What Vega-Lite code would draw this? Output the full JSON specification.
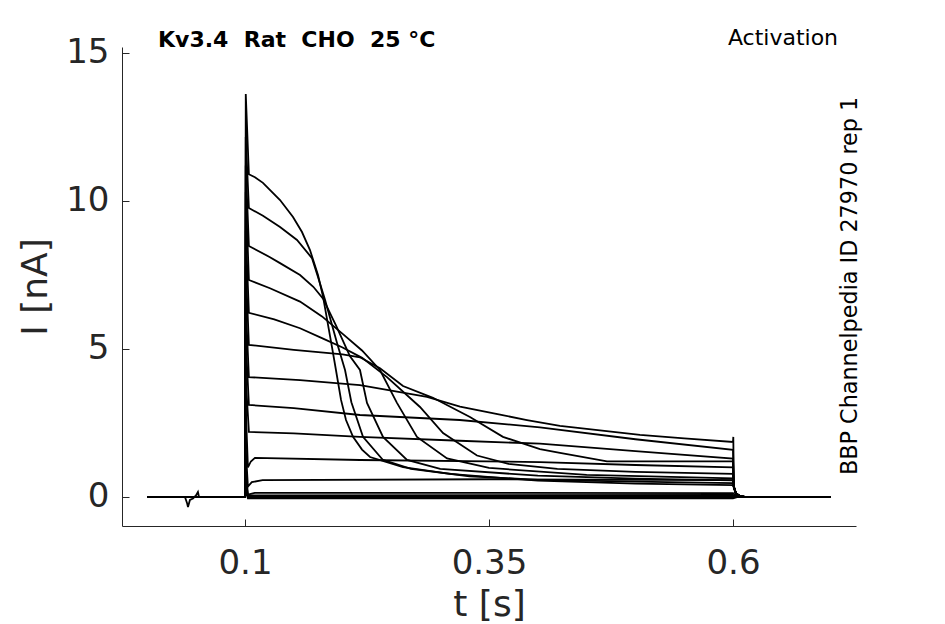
{
  "$schema": "https://vega.github.io/schema/vega-lite/v6.json",
  "width": 734,
  "height": 479,
  "autosize": "none",
  "padding": {"left": 122, "top": 47, "right": 89, "bottom": 98},
  "background": "white",
  "config": {
    "view": {"stroke": null},
    "font": "DejaVu Sans",
    "axis": {
      "grid": false,
      "domainColor": "#262626",
      "tickColor": "#262626",
      "labelColor": "#262626",
      "titleColor": "#262626",
      "labelFont": "DejaVu Sans",
      "titleFont": "DejaVu Sans",
      "labelFontSize": 34,
      "titleFontSize": 36,
      "titleFontWeight": "normal",
      "tickSize": -7,
      "domainWidth": 1,
      "tickWidth": 1
    }
  },
  "datasets": {
    "traces": [
      {"k": "A", "t": 0, "i": 0}, {"k": "A", "t": 0.0385, "i": 0}, {"k": "A", "t": 0.0406, "i": -0.2}, {"k": "A", "t": 0.0416, "i": -0.34}, {"k": "A", "t": 0.0436, "i": -0.1}, {"k": "A", "t": 0.0467, "i": -0.05}, {"k": "A", "t": 0.0498, "i": 0.05}, {"k": "A", "t": 0.0518, "i": 0.17}, {"k": "A", "t": 0.0529, "i": 0}, {"k": "A", "t": 0.1, "i": 0},
      {"k": "A", "t": 0.1008, "i": 13.61}, {"k": "A", "t": 0.104, "i": 10.9}, {"k": "A", "t": 0.1102, "i": 10.8}, {"k": "A", "t": 0.1184, "i": 10.61}, {"k": "A", "t": 0.1359, "i": 10.03}, {"k": "A", "t": 0.1492, "i": 9.46}, {"k": "A", "t": 0.1584, "i": 8.95}, {"k": "A", "t": 0.1666, "i": 8.34}, {"k": "A", "t": 0.1748, "i": 7.5}, {"k": "A", "t": 0.18, "i": 6.76}, {"k": "A", "t": 0.1891, "i": 5.07}, {"k": "A", "t": 0.1932, "i": 4.29}, {"k": "A", "t": 0.1984, "i": 3.28}, {"k": "A", "t": 0.2035, "i": 2.6}, {"k": "A", "t": 0.2107, "i": 2.03}, {"k": "A", "t": 0.2199, "i": 1.6}, {"k": "A", "t": 0.2281, "i": 1.35}, {"k": "A", "t": 0.2619, "i": 1.01}, {"k": "A", "t": 0.31, "i": 0.78}, {"k": "A", "t": 0.4, "i": 0.55}, {"k": "A", "t": 0.5, "i": 0.45}, {"k": "A", "t": 0.6, "i": 0.4},
      {"k": "A", "t": 0.6008, "i": 0.35}, {"k": "A", "t": 0.603, "i": 0.12}, {"k": "A", "t": 0.607, "i": 0.03}, {"k": "A", "t": 0.612, "i": 0}, {"k": "A", "t": 0.7, "i": 0},

      {"k": "B", "t": 0, "i": 0}, {"k": "B", "t": 0.1, "i": 0}, {"k": "B", "t": 0.1008, "i": 12.16}, {"k": "B", "t": 0.104, "i": 9.76}, {"k": "B", "t": 0.1184, "i": 9.5}, {"k": "B", "t": 0.1359, "i": 9.12}, {"k": "B", "t": 0.1533, "i": 8.68}, {"k": "B", "t": 0.1686, "i": 8.07}, {"k": "B", "t": 0.1748, "i": 7.43}, {"k": "B", "t": 0.182, "i": 6.66}, {"k": "B", "t": 0.1943, "i": 5.2}, {"k": "B", "t": 0.2025, "i": 4.29}, {"k": "B", "t": 0.209, "i": 3.2}, {"k": "B", "t": 0.2209, "i": 2.03}, {"k": "B", "t": 0.2414, "i": 1.25}, {"k": "B", "t": 0.27, "i": 0.95}, {"k": "B", "t": 0.33, "i": 0.7}, {"k": "B", "t": 0.4, "i": 0.58}, {"k": "B", "t": 0.5, "i": 0.52}, {"k": "B", "t": 0.6, "i": 0.47},
      {"k": "B", "t": 0.6008, "i": 0.35}, {"k": "B", "t": 0.603, "i": 0.12}, {"k": "B", "t": 0.607, "i": 0.03}, {"k": "B", "t": 0.612, "i": 0}, {"k": "B", "t": 0.7, "i": 0},

      {"k": "C", "t": 0, "i": 0}, {"k": "C", "t": 0.1, "i": 0}, {"k": "C", "t": 0.1008, "i": 11.2}, {"k": "C", "t": 0.104, "i": 8.48}, {"k": "C", "t": 0.1256, "i": 8.1}, {"k": "C", "t": 0.1359, "i": 7.9}, {"k": "C", "t": 0.1564, "i": 7.5}, {"k": "C", "t": 0.17, "i": 7.1}, {"k": "C", "t": 0.18, "i": 6.7}, {"k": "C", "t": 0.1932, "i": 5.8}, {"k": "C", "t": 0.2076, "i": 4.75}, {"k": "C", "t": 0.2178, "i": 4.29}, {"k": "C", "t": 0.225, "i": 3.18}, {"k": "C", "t": 0.2414, "i": 2.03}, {"k": "C", "t": 0.266, "i": 1.25}, {"k": "C", "t": 0.3, "i": 0.95}, {"k": "C", "t": 0.4, "i": 0.72}, {"k": "C", "t": 0.5, "i": 0.62}, {"k": "C", "t": 0.6, "i": 0.56},
      {"k": "C", "t": 0.6008, "i": 0.35}, {"k": "C", "t": 0.603, "i": 0.12}, {"k": "C", "t": 0.607, "i": 0.03}, {"k": "C", "t": 0.612, "i": 0}, {"k": "C", "t": 0.7, "i": 0},

      {"k": "D", "t": 0, "i": 0}, {"k": "D", "t": 0.1, "i": 0}, {"k": "D", "t": 0.1008, "i": 10.3}, {"k": "D", "t": 0.104, "i": 7.33}, {"k": "D", "t": 0.1256, "i": 7.05}, {"k": "D", "t": 0.1564, "i": 6.6}, {"k": "D", "t": 0.1789, "i": 6.1}, {"k": "D", "t": 0.2004, "i": 5.5}, {"k": "D", "t": 0.2199, "i": 4.95}, {"k": "D", "t": 0.2383, "i": 4.29}, {"k": "D", "t": 0.2557, "i": 3.18}, {"k": "D", "t": 0.2762, "i": 2.03}, {"k": "D", "t": 0.307, "i": 1.3}, {"k": "D", "t": 0.35, "i": 0.98}, {"k": "D", "t": 0.45, "i": 0.75}, {"k": "D", "t": 0.6, "i": 0.63},
      {"k": "D", "t": 0.6008, "i": 0.35}, {"k": "D", "t": 0.603, "i": 0.12}, {"k": "D", "t": 0.607, "i": 0.03}, {"k": "D", "t": 0.612, "i": 0}, {"k": "D", "t": 0.7, "i": 0},

      {"k": "E", "t": 0, "i": 0}, {"k": "E", "t": 0.1, "i": 0}, {"k": "E", "t": 0.1008, "i": 9.0}, {"k": "E", "t": 0.104, "i": 6.22}, {"k": "E", "t": 0.13, "i": 6.0}, {"k": "E", "t": 0.1564, "i": 5.7}, {"k": "E", "t": 0.18, "i": 5.35}, {"k": "E", "t": 0.2, "i": 5.05}, {"k": "E", "t": 0.22, "i": 4.7}, {"k": "E", "t": 0.2455, "i": 4.05}, {"k": "E", "t": 0.2793, "i": 3.04}, {"k": "E", "t": 0.3029, "i": 2.16}, {"k": "E", "t": 0.3377, "i": 1.4}, {"k": "E", "t": 0.37, "i": 1.12}, {"k": "E", "t": 0.42, "i": 0.95}, {"k": "E", "t": 0.5, "i": 0.85}, {"k": "E", "t": 0.6, "i": 0.78},
      {"k": "E", "t": 0.6008, "i": 0.35}, {"k": "E", "t": 0.603, "i": 0.12}, {"k": "E", "t": 0.607, "i": 0.03}, {"k": "E", "t": 0.612, "i": 0}, {"k": "E", "t": 0.7, "i": 0},

      {"k": "F", "t": 0, "i": 0}, {"k": "F", "t": 0.1, "i": 0}, {"k": "F", "t": 0.1008, "i": 7.8}, {"k": "F", "t": 0.104, "i": 5.14}, {"k": "F", "t": 0.15, "i": 4.97}, {"k": "F", "t": 0.2, "i": 4.82}, {"k": "F", "t": 0.2178, "i": 4.72}, {"k": "F", "t": 0.2383, "i": 4.35}, {"k": "F", "t": 0.2619, "i": 3.75}, {"k": "F", "t": 0.2926, "i": 3.35}, {"k": "F", "t": 0.3305, "i": 2.7}, {"k": "F", "t": 0.3643, "i": 2.03}, {"k": "F", "t": 0.4022, "i": 1.62}, {"k": "F", "t": 0.4227, "i": 1.49}, {"k": "F", "t": 0.4709, "i": 1.2}, {"k": "F", "t": 0.6, "i": 1.2},
      {"k": "F", "t": 0.6008, "i": 0.35}, {"k": "F", "t": 0.603, "i": 0.12}, {"k": "F", "t": 0.607, "i": 0.03}, {"k": "F", "t": 0.612, "i": 0}, {"k": "F", "t": 0.7, "i": 0},

      {"k": "G", "t": 0, "i": 0}, {"k": "G", "t": 0.1, "i": 0}, {"k": "G", "t": 0.1008, "i": 6.5}, {"k": "G", "t": 0.104, "i": 4.05}, {"k": "G", "t": 0.1564, "i": 3.95}, {"k": "G", "t": 0.2178, "i": 3.78}, {"k": "G", "t": 0.2865, "i": 3.38}, {"k": "G", "t": 0.3203, "i": 3.05}, {"k": "G", "t": 0.3613, "i": 2.78}, {"k": "G", "t": 0.3889, "i": 2.6}, {"k": "G", "t": 0.4227, "i": 2.4}, {"k": "G", "t": 0.5047, "i": 2.1}, {"k": "G", "t": 0.55, "i": 1.98}, {"k": "G", "t": 0.6, "i": 1.86}, {"k": "G", "t": 0.6003, "i": 2.03},
      {"k": "G", "t": 0.6008, "i": 0.35}, {"k": "G", "t": 0.603, "i": 0.12}, {"k": "G", "t": 0.607, "i": 0.03}, {"k": "G", "t": 0.612, "i": 0}, {"k": "G", "t": 0.7, "i": 0},

      {"k": "H", "t": 0, "i": 0}, {"k": "H", "t": 0.1, "i": 0}, {"k": "H", "t": 0.1008, "i": 5.3}, {"k": "H", "t": 0.104, "i": 3.11}, {"k": "H", "t": 0.15, "i": 3.0}, {"k": "H", "t": 0.2178, "i": 2.77}, {"k": "H", "t": 0.32, "i": 2.6}, {"k": "H", "t": 0.4022, "i": 2.35}, {"k": "H", "t": 0.5, "i": 1.95}, {"k": "H", "t": 0.6, "i": 1.59},
      {"k": "H", "t": 0.6008, "i": 0.35}, {"k": "H", "t": 0.603, "i": 0.12}, {"k": "H", "t": 0.607, "i": 0.03}, {"k": "H", "t": 0.612, "i": 0}, {"k": "H", "t": 0.7, "i": 0},

      {"k": "I", "t": 0, "i": 0}, {"k": "I", "t": 0.1, "i": 0}, {"k": "I", "t": 0.1008, "i": 4.0}, {"k": "I", "t": 0.104, "i": 2.2}, {"k": "I", "t": 0.15, "i": 2.15}, {"k": "I", "t": 0.2178, "i": 2.03}, {"k": "I", "t": 0.32, "i": 1.9}, {"k": "I", "t": 0.4022, "i": 1.8}, {"k": "I", "t": 0.5, "i": 1.55}, {"k": "I", "t": 0.6, "i": 1.3},
      {"k": "I", "t": 0.6008, "i": 0.35}, {"k": "I", "t": 0.603, "i": 0.12}, {"k": "I", "t": 0.607, "i": 0.03}, {"k": "I", "t": 0.612, "i": 0}, {"k": "I", "t": 0.7, "i": 0},

      {"k": "J", "t": 0, "i": 0}, {"k": "J", "t": 0.1, "i": 0}, {"k": "J", "t": 0.1008, "i": 3.0}, {"k": "J", "t": 0.103, "i": 1.0}, {"k": "J", "t": 0.106, "i": 1.2}, {"k": "J", "t": 0.1102, "i": 1.32}, {"k": "J", "t": 0.2178, "i": 1.25}, {"k": "J", "t": 0.4022, "i": 1.18}, {"k": "J", "t": 0.5, "i": 1.08}, {"k": "J", "t": 0.6, "i": 1.0},
      {"k": "J", "t": 0.6008, "i": 0.35}, {"k": "J", "t": 0.603, "i": 0.12}, {"k": "J", "t": 0.607, "i": 0.03}, {"k": "J", "t": 0.612, "i": 0}, {"k": "J", "t": 0.7, "i": 0},

      {"k": "K", "t": 0, "i": 0}, {"k": "K", "t": 0.1, "i": 0}, {"k": "K", "t": 0.1008, "i": 1.6}, {"k": "K", "t": 0.103, "i": 0.35}, {"k": "K", "t": 0.107, "i": 0.5}, {"k": "K", "t": 0.118, "i": 0.57}, {"k": "K", "t": 0.35, "i": 0.6}, {"k": "K", "t": 0.6, "i": 0.57},
      {"k": "K", "t": 0.6008, "i": 0.3}, {"k": "K", "t": 0.603, "i": 0.1}, {"k": "K", "t": 0.607, "i": 0.03}, {"k": "K", "t": 0.612, "i": 0}, {"k": "K", "t": 0.7, "i": 0},

      {"k": "L", "t": 0, "i": 0}, {"k": "L", "t": 0.1, "i": 0}, {"k": "L", "t": 0.1008, "i": 1.0}, {"k": "L", "t": 0.103, "i": 0.08}, {"k": "L", "t": 0.11, "i": 0.14}, {"k": "L", "t": 0.35, "i": 0.14}, {"k": "L", "t": 0.6, "i": 0.13}, {"k": "L", "t": 0.603, "i": 0.05}, {"k": "L", "t": 0.61, "i": 0}, {"k": "L", "t": 0.7, "i": 0},

      {"k": "M", "t": 0, "i": 0}, {"k": "M", "t": 0.1, "i": 0}, {"k": "M", "t": 0.1008, "i": 0.6}, {"k": "M", "t": 0.103, "i": 0.05}, {"k": "M", "t": 0.6, "i": 0.07}, {"k": "M", "t": 0.605, "i": 0}, {"k": "M", "t": 0.7, "i": 0},

      {"k": "N", "t": 0, "i": 0}, {"k": "N", "t": 0.1, "i": 0}, {"k": "N", "t": 0.1008, "i": 0.4}, {"k": "N", "t": 0.103, "i": 0.02}, {"k": "N", "t": 0.6, "i": 0.03}, {"k": "N", "t": 0.605, "i": 0}, {"k": "N", "t": 0.7, "i": 0},

      {"k": "O", "t": 0, "i": 0}, {"k": "O", "t": 0.1, "i": 0}, {"k": "O", "t": 0.1008, "i": 0.3}, {"k": "O", "t": 0.103, "i": 0}, {"k": "O", "t": 0.6, "i": 0}, {"k": "O", "t": 0.7, "i": 0},

      {"k": "P", "t": 0, "i": 0}, {"k": "P", "t": 0.1, "i": 0}, {"k": "P", "t": 0.1008, "i": 0.2}, {"k": "P", "t": 0.103, "i": -0.05}, {"k": "P", "t": 0.6, "i": -0.05}, {"k": "P", "t": 0.605, "i": 0}, {"k": "P", "t": 0.7, "i": 0}
    ],
    "one": [{}]
  },
  "layer": [
    {
      "data": {"name": "traces"},
      "mark": {"type": "line", "color": "black", "strokeWidth": 1.8},
      "encoding": {
        "x": {
          "field": "t",
          "type": "quantitative",
          "title": "t [s]",
          "scale": {"domain": [-0.026, 0.726], "nice": false, "zero": false},
          "axis": {"values": [0.1, 0.35, 0.6], "format": "~g", "labelPadding": 27, "titlePadding": 7}
        },
        "y": {
          "field": "i",
          "type": "quantitative",
          "title": "I [nA]",
          "scale": {"domain": [-0.98, 15.2], "nice": false, "zero": false},
          "axis": {"values": [0, 5, 10, 15], "format": "d", "labelPadding": 20, "titlePadding": 11}
        },
        "detail": {"field": "k"}
      }
    },
    {
      "data": {"name": "one"},
      "mark": {"type": "text", "text": "Kv3.4\u00a0\u00a0Rat\u00a0\u00a0CHO\u00a0\u00a025\u00a0°C", "font": "DejaVu Sans", "fontWeight": "bold", "fontSize": 22, "align": "left", "baseline": "middle", "color": "black"},
      "encoding": {"x": {"datum": 0.0109}, "y": {"datum": 15.44}}
    },
    {
      "data": {"name": "one"},
      "mark": {"type": "text", "text": "Activation", "font": "DejaVu Sans", "fontSize": 22, "align": "right", "baseline": "middle", "color": "black"},
      "encoding": {"x": {"datum": 0.7076}, "y": {"datum": 15.5}}
    },
    {
      "data": {"name": "one"},
      "mark": {"type": "text", "text": "BBP Channelpedia ID 27970 rep 1", "font": "DejaVu Sans", "fontSize": 22.3, "angle": 270, "align": "center", "baseline": "middle", "color": "black"},
      "encoding": {"x": {"datum": 0.7195}, "y": {"datum": 7.13}}
    }
  ]
}
